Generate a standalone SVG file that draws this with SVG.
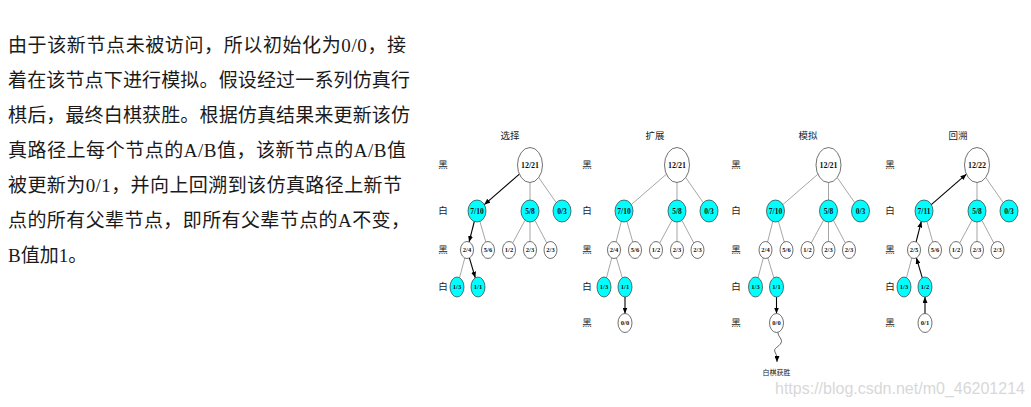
<svg xmlns="http://www.w3.org/2000/svg" width="1031" height="407" viewBox="0 0 1031 407">
<defs>
<style>
.para{font-family:'Liberation Serif','Noto Sans CJK SC',sans-serif;font-size:19px;fill:#1a1a1a}
.lvl{font-family:'Noto Sans CJK SC',sans-serif;font-size:9.5px;fill:#222;text-anchor:middle}
.ttl{font-family:'Noto Sans CJK SC',sans-serif;font-size:9.5px;fill:#222;text-anchor:middle}
.w{fill:#fff;stroke:#333;stroke-width:0.7}
.c{fill:#00ffff;stroke:#333;stroke-width:0.7}
.nt{font-family:'Liberation Serif',serif;font-weight:bold;fill:#111;text-anchor:middle}
.t0{font-size:8px}
.t1{font-size:7.5px}
.t2{font-size:6.5px}
.e{stroke:#808080;stroke-width:0.7;fill:none}
.a{stroke:#000;stroke-width:1.1;fill:none;marker-end:url(#ah)}
.wv{stroke:#222;stroke-width:0.7;fill:none;marker-end:url(#ah)}
.wm{font-family:'Liberation Sans',Arial,sans-serif;font-size:16px;fill:#d8d8d8}
</style>
<marker id="ah" viewBox="0 0 6 5" refX="6" refY="2.5" markerWidth="6" markerHeight="5" markerUnits="userSpaceOnUse" orient="auto">
<path d="M0,0 L6,2.5 L0,5 z" fill="#000"/>
</marker>
</defs>
<rect width="1031" height="407" fill="#fff"/>

<g id="paragraph">
<text class="para" x="8" y="52" textLength="398" lengthAdjust="spacing">由于该新节点未被访问，所以初始化为0/0，接</text>
<text class="para" x="8" y="87" textLength="402" lengthAdjust="spacing">着在该节点下进行模拟。假设经过一系列仿真行</text>
<text class="para" x="8" y="122" textLength="402" lengthAdjust="spacing">棋后，最终白棋获胜。根据仿真结果来更新该仿</text>
<text class="para" x="8" y="157" textLength="398" lengthAdjust="spacing">真路径上每个节点的A/B值，该新节点的A/B值</text>
<text class="para" x="8" y="192" textLength="394" lengthAdjust="spacing">被更新为0/1，并向上回溯到该仿真路径上新节</text>
<text class="para" x="8" y="227" textLength="402" lengthAdjust="spacing">点的所有父辈节点，即所有父辈节点的A不变，</text>
<text class="para" x="8" y="262">B值加1。</text>
</g>

<g id="titles">
<text class="ttl" x="510" y="139">选择</text>
<text class="ttl" x="655" y="139">扩展</text>
<text class="ttl" x="808" y="139">模拟</text>
<text class="ttl" x="958" y="139">回溯</text>
</g>

<g id="level-labels">
<text class="lvl" x="443" y="168">黑</text>
<text class="lvl" x="443" y="214">白</text>
<text class="lvl" x="443" y="253">黑</text>
<text class="lvl" x="443" y="290">白</text>
<text class="lvl" x="587" y="168">黑</text>
<text class="lvl" x="587" y="214">白</text>
<text class="lvl" x="587" y="253">黑</text>
<text class="lvl" x="587" y="290">白</text>
<text class="lvl" x="587" y="326">黑</text>
<text class="lvl" x="736" y="168">黑</text>
<text class="lvl" x="736" y="214">白</text>
<text class="lvl" x="736" y="253">黑</text>
<text class="lvl" x="736" y="290">白</text>
<text class="lvl" x="736" y="326">黑</text>
<text class="lvl" x="890" y="168">黑</text>
<text class="lvl" x="890" y="214">白</text>
<text class="lvl" x="890" y="253">黑</text>
<text class="lvl" x="890" y="290">白</text>
<text class="lvl" x="890" y="326">黑</text>
</g>

<g id="connectors">
<g transform="translate(530,0)">
<line class="a" x1="-10.6" y1="174.2" x2="-45.7" y2="204.6"/>
<line class="e" x1="0" y1="182.5" x2="0" y2="200"/>
<line class="e" x1="8.7" y1="177.5" x2="26.2" y2="202.6"/>
<line class="a" x1="-55.7" y1="221.5" x2="-60.9" y2="241.9"/>
<line class="e" x1="-50.1" y1="221.4" x2="-44.2" y2="242"/>
<line class="e" x1="-4.95" y1="220.2" x2="-17.3" y2="243.05"/>
<line class="e" x1="0" y1="222" x2="0" y2="241.5"/>
<line class="e" x1="4.86" y1="220.25" x2="16.8" y2="243"/>
<line class="e" x1="-65.2" y1="258" x2="-70.5" y2="277.7"/>
<line class="a" x1="-60.6" y1="257.9" x2="-54.7" y2="277.8"/>
</g>
<g transform="translate(677,0)">
<line class="e" x1="-10.6" y1="174.2" x2="-45.7" y2="204.6"/>
<line class="e" x1="0" y1="182.5" x2="0" y2="200"/>
<line class="e" x1="8.7" y1="177.5" x2="26.2" y2="202.6"/>
<line class="e" x1="-55.7" y1="221.5" x2="-60.9" y2="241.9"/>
<line class="e" x1="-50.1" y1="221.4" x2="-44.2" y2="242"/>
<line class="e" x1="-4.95" y1="220.2" x2="-17.3" y2="243.05"/>
<line class="e" x1="0" y1="222" x2="0" y2="241.5"/>
<line class="e" x1="4.86" y1="220.25" x2="16.8" y2="243"/>
<line class="e" x1="-65.2" y1="258" x2="-70.5" y2="277.7"/>
<line class="e" x1="-60.6" y1="257.9" x2="-54.7" y2="277.8"/>
<line class="a" x1="-52" y1="297" x2="-52" y2="313.5"/>
</g>
<g transform="translate(828.5,0)">
<line class="e" x1="-10.6" y1="174.2" x2="-45.7" y2="204.6"/>
<line class="e" x1="0" y1="182.5" x2="0" y2="200"/>
<line class="e" x1="8.7" y1="177.5" x2="26.2" y2="202.6"/>
<line class="e" x1="-55.7" y1="221.5" x2="-60.9" y2="241.9"/>
<line class="e" x1="-50.1" y1="221.4" x2="-44.2" y2="242"/>
<line class="e" x1="-4.95" y1="220.2" x2="-17.3" y2="243.05"/>
<line class="e" x1="0" y1="222" x2="0" y2="241.5"/>
<line class="e" x1="4.86" y1="220.25" x2="16.8" y2="243"/>
<line class="e" x1="-65.2" y1="258" x2="-70.5" y2="277.7"/>
<line class="e" x1="-60.6" y1="257.9" x2="-54.7" y2="277.8"/>
<line class="a" x1="-52" y1="297" x2="-52" y2="313.5"/>
<path class="wv" d="M-50.5,332.5 C-50.5,337 -45.5,339 -47.5,343 S-55.5,348 -53.5,352 S-51.5,357 -51.5,362"/>
</g>
<g transform="translate(977,0)">
<line class="a" x1="-45.7" y1="204.6" x2="-10.6" y2="174.2"/>
<line class="e" x1="0" y1="182.5" x2="0" y2="200"/>
<line class="e" x1="8.7" y1="177.5" x2="26.2" y2="202.6"/>
<line class="a" x1="-60.9" y1="241.9" x2="-55.7" y2="221.5"/>
<line class="e" x1="-50.1" y1="221.4" x2="-44.2" y2="242"/>
<line class="e" x1="-4.95" y1="220.2" x2="-17.3" y2="243.05"/>
<line class="e" x1="0" y1="222" x2="0" y2="241.5"/>
<line class="e" x1="4.86" y1="220.25" x2="16.8" y2="243"/>
<line class="e" x1="-65.2" y1="258" x2="-70.5" y2="277.7"/>
<line class="a" x1="-54.7" y1="277.8" x2="-60.6" y2="257.9"/>
<line class="a" x1="-52" y1="313.5" x2="-52" y2="297"/>
</g>
</g>

<g id="tree1" transform="translate(530,0)">
<g id="t1-root"><ellipse class="w" cx="0" cy="165" rx="12.5" ry="17.5"/><text class="nt t0" x="0" y="167.8">12/21</text></g>
<g id="t1-a"><ellipse class="c" cx="-53" cy="211" rx="9" ry="11"/><text class="nt t1" x="-53" y="213.6">7/10</text></g>
<g id="t1-b"><ellipse class="c" cx="0" cy="211" rx="9" ry="11"/><text class="nt t1" x="0" y="213.6">5/8</text></g>
<g id="t1-c"><ellipse class="c" cx="32" cy="211" rx="9" ry="11"/><text class="nt t1" x="32" y="213.6">0/3</text></g>
<g id="t1-d"><ellipse class="w" cx="-63" cy="250" rx="6.5" ry="8.5"/><text class="nt t2" x="-63" y="252.3">2/4</text></g>
<g id="t1-e"><ellipse class="w" cx="-42" cy="250" rx="6.5" ry="8.5"/><text class="nt t2" x="-42" y="252.3">5/6</text></g>
<g id="t1-f"><ellipse class="w" cx="-21" cy="250" rx="6.5" ry="8.5"/><text class="nt t2" x="-21" y="252.3">1/2</text></g>
<g id="t1-g"><ellipse class="w" cx="0" cy="250" rx="6.5" ry="8.5"/><text class="nt t2" x="0" y="252.3">2/3</text></g>
<g id="t1-h"><ellipse class="w" cx="20.5" cy="250" rx="6.5" ry="8.5"/><text class="nt t2" x="20.5" y="252.3">2/3</text></g>
<g id="t1-i"><ellipse class="c" cx="-73" cy="287" rx="7" ry="10"/><text class="nt t2" x="-73" y="289.3">1/3</text></g>
<g id="t1-j"><ellipse class="c" cx="-52" cy="287" rx="7" ry="10"/><text class="nt t2" x="-52" y="289.3">1/1</text></g>
</g>

<g id="tree2" transform="translate(677,0)">
<g id="t2-root"><ellipse class="w" cx="0" cy="165" rx="12.5" ry="17.5"/><text class="nt t0" x="0" y="167.8">12/21</text></g>
<g id="t2-a"><ellipse class="c" cx="-53" cy="211" rx="9" ry="11"/><text class="nt t1" x="-53" y="213.6">7/10</text></g>
<g id="t2-b"><ellipse class="c" cx="0" cy="211" rx="9" ry="11"/><text class="nt t1" x="0" y="213.6">5/8</text></g>
<g id="t2-c"><ellipse class="c" cx="32" cy="211" rx="9" ry="11"/><text class="nt t1" x="32" y="213.6">0/3</text></g>
<g id="t2-d"><ellipse class="w" cx="-63" cy="250" rx="6.5" ry="8.5"/><text class="nt t2" x="-63" y="252.3">2/4</text></g>
<g id="t2-e"><ellipse class="w" cx="-42" cy="250" rx="6.5" ry="8.5"/><text class="nt t2" x="-42" y="252.3">5/6</text></g>
<g id="t2-f"><ellipse class="w" cx="-21" cy="250" rx="6.5" ry="8.5"/><text class="nt t2" x="-21" y="252.3">1/2</text></g>
<g id="t2-g"><ellipse class="w" cx="0" cy="250" rx="6.5" ry="8.5"/><text class="nt t2" x="0" y="252.3">2/3</text></g>
<g id="t2-h"><ellipse class="w" cx="20.5" cy="250" rx="6.5" ry="8.5"/><text class="nt t2" x="20.5" y="252.3">2/3</text></g>
<g id="t2-i"><ellipse class="c" cx="-73" cy="287" rx="7" ry="10"/><text class="nt t2" x="-73" y="289.3">1/3</text></g>
<g id="t2-j"><ellipse class="c" cx="-52" cy="287" rx="7" ry="10"/><text class="nt t2" x="-52" y="289.3">1/1</text></g>
<g id="t2-k"><ellipse class="w" cx="-52" cy="323" rx="7" ry="9.5"/><text class="nt t2" x="-52" y="325.3">0/0</text></g>
</g>

<g id="tree3" transform="translate(828.5,0)">
<g id="t3-root"><ellipse class="w" cx="0" cy="165" rx="12.5" ry="17.5"/><text class="nt t0" x="0" y="167.8">12/21</text></g>
<g id="t3-a"><ellipse class="c" cx="-53" cy="211" rx="9" ry="11"/><text class="nt t1" x="-53" y="213.6">7/10</text></g>
<g id="t3-b"><ellipse class="c" cx="0" cy="211" rx="9" ry="11"/><text class="nt t1" x="0" y="213.6">5/8</text></g>
<g id="t3-c"><ellipse class="c" cx="32" cy="211" rx="9" ry="11"/><text class="nt t1" x="32" y="213.6">0/3</text></g>
<g id="t3-d"><ellipse class="w" cx="-63" cy="250" rx="6.5" ry="8.5"/><text class="nt t2" x="-63" y="252.3">2/4</text></g>
<g id="t3-e"><ellipse class="w" cx="-42" cy="250" rx="6.5" ry="8.5"/><text class="nt t2" x="-42" y="252.3">5/6</text></g>
<g id="t3-f"><ellipse class="w" cx="-21" cy="250" rx="6.5" ry="8.5"/><text class="nt t2" x="-21" y="252.3">1/2</text></g>
<g id="t3-g"><ellipse class="w" cx="0" cy="250" rx="6.5" ry="8.5"/><text class="nt t2" x="0" y="252.3">2/3</text></g>
<g id="t3-h"><ellipse class="w" cx="20.5" cy="250" rx="6.5" ry="8.5"/><text class="nt t2" x="20.5" y="252.3">2/3</text></g>
<g id="t3-i"><ellipse class="c" cx="-73" cy="287" rx="7" ry="10"/><text class="nt t2" x="-73" y="289.3">1/3</text></g>
<g id="t3-j"><ellipse class="c" cx="-52" cy="287" rx="7" ry="10"/><text class="nt t2" x="-52" y="289.3">1/1</text></g>
<g id="t3-k"><ellipse class="w" cx="-52" cy="323" rx="7" ry="9.5"/><text class="nt t2" x="-52" y="325.3">0/0</text></g>
<g id="t3-win"><text class="ttl" style="font-size:7px" x="-52" y="375">白棋获胜</text></g>
</g>

<g id="tree4" transform="translate(977,0)">
<g id="t4-root"><ellipse class="w" cx="0" cy="165" rx="12.5" ry="17.5"/><text class="nt t0" x="0" y="167.8">12/22</text></g>
<g id="t4-a"><ellipse class="c" cx="-53" cy="211" rx="9" ry="11"/><text class="nt t1" x="-53" y="213.6">7/11</text></g>
<g id="t4-b"><ellipse class="c" cx="0" cy="211" rx="9" ry="11"/><text class="nt t1" x="0" y="213.6">5/8</text></g>
<g id="t4-c"><ellipse class="c" cx="32" cy="211" rx="9" ry="11"/><text class="nt t1" x="32" y="213.6">0/3</text></g>
<g id="t4-d"><ellipse class="w" cx="-63" cy="250" rx="6.5" ry="8.5"/><text class="nt t2" x="-63" y="252.3">2/5</text></g>
<g id="t4-e"><ellipse class="w" cx="-42" cy="250" rx="6.5" ry="8.5"/><text class="nt t2" x="-42" y="252.3">5/6</text></g>
<g id="t4-f"><ellipse class="w" cx="-21" cy="250" rx="6.5" ry="8.5"/><text class="nt t2" x="-21" y="252.3">1/2</text></g>
<g id="t4-g"><ellipse class="w" cx="0" cy="250" rx="6.5" ry="8.5"/><text class="nt t2" x="0" y="252.3">2/3</text></g>
<g id="t4-h"><ellipse class="w" cx="20.5" cy="250" rx="6.5" ry="8.5"/><text class="nt t2" x="20.5" y="252.3">2/3</text></g>
<g id="t4-i"><ellipse class="c" cx="-73" cy="287" rx="7" ry="10"/><text class="nt t2" x="-73" y="289.3">1/3</text></g>
<g id="t4-j"><ellipse class="c" cx="-52" cy="287" rx="7" ry="10"/><text class="nt t2" x="-52" y="289.3">1/2</text></g>
<g id="t4-k"><ellipse class="w" cx="-52" cy="323" rx="7" ry="9.5"/><text class="nt t2" x="-52" y="325.3">0/1</text></g>
</g>

<text class="wm" x="775" y="394">https://blog.csdn.net/m0_46201214</text>
</svg>
